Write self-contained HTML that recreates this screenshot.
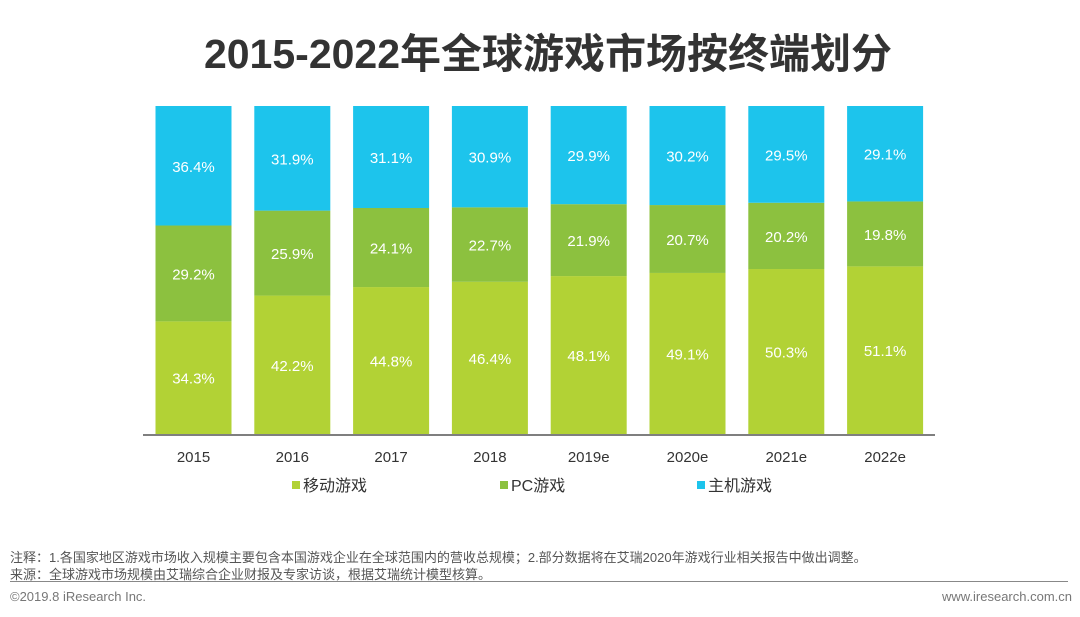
<!DOCTYPE html>
<html><head><meta charset="utf-8">
<style>
body{margin:0;width:1080px;height:617px;background:#fff;overflow:hidden;font-family:"Liberation Sans","Noto Sans CJK SC",sans-serif;position:relative}
#title{position:absolute;left:0;width:1096px;top:30px;text-align:center;font-size:41px;font-weight:bold;color:#333;line-height:48px}
.note{position:absolute;left:10px;font-size:13px;color:#555;white-space:nowrap}
</style></head><body>
<div id="title">2015-2022年全球游戏市场按终端划分</div>
<svg id="chart" width="1080" height="617" style="position:absolute;left:0;top:0"></svg>
<div class="note" style="top:547px">注释：1.各国家地区游戏市场收入规模主要包含本国游戏企业在全球范围内的营收总规模；2.部分数据将在艾瑞2020年游戏行业相关报告中做出调整。</div>
<div class="note" style="top:564px">来源：全球游戏市场规模由艾瑞综合企业财报及专家访谈，根据艾瑞统计模型核算。</div>
<div style="position:absolute;left:10px;top:581px;width:1058px;height:1px;background:#888"></div>
<div class="note" style="top:589px;color:#777">©2019.8 iResearch Inc.</div>
<div class="note" style="top:589px;left:auto;right:8px;color:#777">www.iresearch.com.cn</div>
<script>
const categories=["2015","2016","2017","2018","2019e","2020e","2021e","2022e"];
const mobile=[34.3,42.2,44.8,46.4,48.1,49.1,50.3,51.1];
const pc=[29.2,25.9,24.1,22.7,21.9,20.7,20.2,19.8];
const consoleV=[36.4,31.9,31.1,30.9,29.9,30.2,29.5,29.1];
const seriesNames=["移动游戏","PC游戏","主机游戏"];
const colors=["#b2d235","#8cc13f","#1dc4ec"];
const svg=document.getElementById('chart');
const NS="http://www.w3.org/2000/svg";
const top0=106,bottom=434,x0=155.5,step=98.8,bw=76;
function xPos(i){return x0+i*step;}
function yScale(f){return bottom-f*(bottom-top0);}
function mk(t,a){const e=document.createElementNS(NS,t);for(const k in a)e.setAttribute(k,a[k]);svg.appendChild(e);return e;}
const series=[mobile,pc,consoleV];
categories.forEach((c,i)=>{
  const tot=mobile[i]+pc[i]+consoleV[i];let acc=0;
  series.forEach((s,j)=>{
    const y1=yScale(acc/tot),y2=yScale((acc+s[i])/tot);acc+=s[i];
    const r=mk('rect',{x:xPos(i),y:y2,width:bw,height:y1-y2,fill:colors[j]});
    
    
    const t=mk('text',{x:xPos(i)+bw/2,y:(y1+y2)/2+6,'text-anchor':'middle','font-size':'15',fill:'#fff'});
    t.textContent=s[i].toFixed(1)+'%';
    
    
  });
  const l=mk('text',{x:xPos(i)+bw/2,y:462,'text-anchor':'middle','font-size':'15',fill:'#333'});
  l.textContent=c;
  
  
});
const ax=mk('line',{x1:143,x2:935,y1:435,y2:435,stroke:'#555','stroke-width':1.5});


const lx=[292,500,697];
seriesNames.forEach((n,j)=>{
  const g=mk('g',{});
  
  
  const r=document.createElementNS(NS,'rect');
  r.setAttribute('x',lx[j]);r.setAttribute('y',481);r.setAttribute('width',8);r.setAttribute('height',8);r.setAttribute('fill',colors[j]);
  g.appendChild(r);
  const t=document.createElementNS(NS,'text');
  t.setAttribute('x',lx[j]+11);t.setAttribute('y',491);t.setAttribute('font-size','16');t.setAttribute('fill','#333');
  t.textContent=n;g.appendChild(t);
});
</script>
</body></html>
